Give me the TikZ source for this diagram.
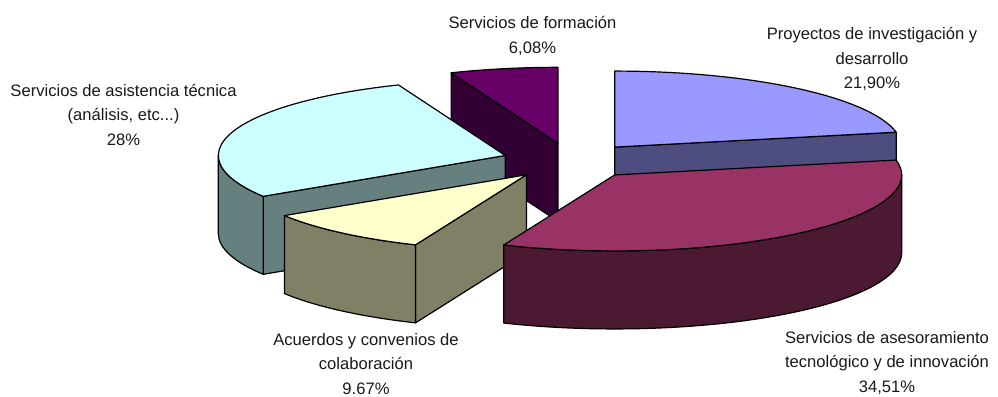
\documentclass[tikz,border=0pt]{standalone}
\usepackage{fontspec}
\setmainfont{Liberation Sans}
\usetikzlibrary{calc}
\definecolor{pyTop}{HTML}{9999FF}
\definecolor{pySide}{HTML}{4D4D80}
\definecolor{asTop}{HTML}{993366}
\definecolor{asSide}{HTML}{4C1933}
\definecolor{acTop}{HTML}{FFFFCC}
\definecolor{acSide}{HTML}{808066}
\definecolor{atTop}{HTML}{CCFFFF}
\definecolor{atSide}{HTML}{668080}
\definecolor{foTop}{HTML}{660066}
\definecolor{foSide}{HTML}{330033}
\newcommand{\pieRX}{287}
\newcommand{\pieRY}{76}
\newcommand{\pieH}{78}
% top face: apex, start theta, end theta, colour
\newcommand{\pietop}[4]{%
  \draw[edge, fill=#4] (#1) -- ($(#1)+(#2-90:\pieRX\space and \pieRY)$)
    arc[start angle=#2-90, end angle=#3-90, x radius=\pieRX, y radius=\pieRY] -- cycle;}
% outer curved side between theta1 and theta2
\newcommand{\pieside}[4]{%
  \draw[edge, fill=#4] ($(#1)+(#2-90:\pieRX\space and \pieRY)$)
    arc[start angle=#2-90, end angle=#3-90, x radius=\pieRX, y radius=\pieRY]
    -- ++(0,\pieH)
    arc[start angle=#3-90, end angle=#2-90, x radius=\pieRX, y radius=\pieRY] -- cycle;}
% radial cut face at theta
\newcommand{\pieface}[3]{%
  \draw[edge, fill=#3] (#1) -- ($(#1)+(#2-90:\pieRX\space and \pieRY)$)
    -- ++(0,\pieH) -- ($(#1)+(0,\pieH)$) -- cycle;}
\begin{document}
\begin{tikzpicture}[x=1pt, y=-1pt,
  edge/.style={draw=black, line width=1.2pt, line join=round},
  lbl/.style={align=center, inner sep=0pt, text=black!90,
    font=\fontsize{16.6}{24.4}\selectfont}]
\useasboundingbox (0,0) rectangle (998,396);
\coordinate (C) at (571,161);
% apexes of exploded slices (mid angles)
\coordinate (A1) at ($(C)+(39.35-90:69 and 18)$);
\coordinate (A2) at ($(C)+(140.73-90:69 and 18)$);
\coordinate (A3) at ($(C)+(220.13-90:69 and 18)$);
\coordinate (A4) at ($(C)+(287.83-90:69 and 18)$);
\coordinate (A5) at ($(C)+(349.07-90:69 and 18)$);
% Formacion
\pieface{A5}{338.15}{foSide}
\pietop{A5}{338.15}{360}{foTop}
% Proyectos
\pieface{A1}{78.71}{pySide}
\pietop{A1}{0}{78.71}{pyTop}
% Asistencia
\pieface{A4}{237.51}{atSide}
\pieside{A4}{237.51}{270}{atSide}
\pietop{A4}{237.51}{338.15}{atTop}
% Acuerdos
\pieface{A3}{202.75}{acSide}
\pieside{A3}{202.75}{237.51}{acSide}
\pietop{A3}{202.75}{237.51}{acTop}
% Asesoramiento
\pieside{A2}{90}{202.75}{asSide}
\pietop{A2}{78.71}{202.75}{asTop}
% labels
\node[lbl] (lfo) at (532.5,36) {Servicios de formación\\6,08\%};
\node[lbl] (lpy) at (872,59) {Proyectos de investigación y\\desarrollo\\21,90\%};
\node[lbl] (lat) at (123.5,114.6) {Servicios de asistencia técnica\\(análisis, etc...)\\28\%};
\node[lbl] (lac) at (366,364) {Acuerdos y convenios de\\colaboración\\9.67\%};
\node[lbl] (las) at (887,363) {Servicios de asesoramiento\\tecnológico y de innovación\\34,51\%};
\end{tikzpicture}
\end{document}
